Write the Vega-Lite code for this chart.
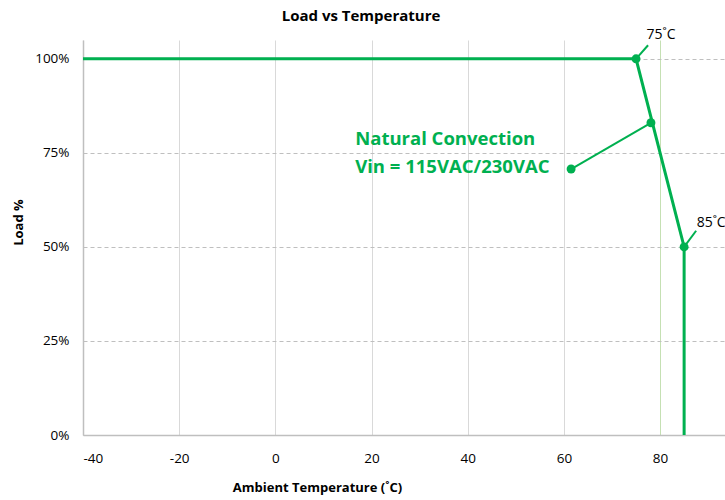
{
  "$schema": "https://vega.github.io/schema/vega-lite/v6.json",
  "width": 642,
  "height": 395,
  "autosize": "none",
  "padding": {"left": 83, "top": 40, "right": 0, "bottom": 65},
  "background": "white",
  "title": {"text": "Load vs Temperature", "anchor": "middle", "frame": "group", "dx": -43, "offset": 4, "font": "Open Sans", "fontSize": 15, "fontWeight": "bold", "color": "#000000"},
  "config": {"view": {"stroke": null}, "font": "Open Sans"},
  "datasets": {
    "curve": [{"i": 1, "t": -40, "load": 100}, {"i": 2, "t": 75, "load": 100}, {"i": 3, "t": 85, "load": 50}, {"i": 4, "t": 85, "load": 0}],
    "dots": [{"t": 75, "load": 100}, {"t": 85, "load": 50}, {"t": 78.1, "load": 83}, {"t": 61.5, "load": 70.7}],
    "leaders": [{"id": "a", "t": 75, "load": 100}, {"id": "a", "t": 77.5, "load": 103.6}, {"id": "b", "t": 85, "load": 50}, {"id": "b", "t": 87.5, "load": 54.3}, {"id": "c", "t": 61.5, "load": 70.7}, {"id": "c", "t": 78.1, "load": 83}],
    "labels": [{"t": 77.2, "load": 106.3, "text": "75˚C"}, {"t": 87.6, "load": 56.3, "text": "85˚C"}],
    "callout": [{"t": 16.6, "load": 78.7, "text": "Natural Convection"}, {"t": 16.6, "load": 71.2, "text": "Vin = 115VAC/230VAC"}]
  },
  "layer": [
    {
      "data": {"name": "curve"},
      "mark": {"type": "line", "color": "#00B050", "strokeWidth": 3},
      "encoding": {
        "x": {"field": "t", "type": "quantitative", "scale": {"domain": [-40, 93.5], "nice": false, "zero": false},
          "axis": {"values": [-40, -20, 0, 20, 40, 60, 80], "labelExpr": "datum.value + ''", "title": "Ambient Temperature (˚C)", "titleFont": "Open Sans", "titleFontSize": 13, "titleFontWeight": "bold", "titleColor": "#000000", "titleX": 234, "titleY": 52, "titleAnchor": "middle", "titleBaseline": "middle",
            "labelFontSize": 13.5, "labelColor": "#000000", "labelPadding": 16, "ticks": false, "domainColor": "#bfbfbf", "domainWidth": 1.5,
            "grid": true, "gridColor": {"condition": {"test": "datum.value === 80", "value": "#c5e0b3"}, "value": "#d9d9d9"}, "gridWidth": 1}},
        "y": {"field": "load", "type": "quantitative", "scale": {"domain": [0, 105], "nice": false},
          "axis": {"values": [0, 25, 50, 75, 100], "labelExpr": "datum.value + '%'", "title": "Load %", "titleFont": "Open Sans", "titleFontSize": 13, "titleFontWeight": "bold", "titleColor": "#000000", "titleX": -65, "titleY": 182, "titleAnchor": "middle", "titleBaseline": "middle",
            "labelFontSize": 13.5, "labelColor": "#000000", "labelPadding": 14, "ticks": false, "domainColor": "#bfbfbf", "domainWidth": 1.5,
            "grid": true, "gridColor": "#bfbfbf", "gridDash": [4, 3], "gridWidth": 1}},
        "order": {"field": "i", "type": "quantitative"}
      }
    },
    {
      "data": {"name": "leaders"},
      "mark": {"type": "line", "color": "#00B050", "strokeWidth": 2},
      "encoding": {
        "x": {"field": "t", "type": "quantitative"},
        "y": {"field": "load", "type": "quantitative"},
        "detail": {"field": "id"}
      }
    },
    {
      "data": {"name": "dots"},
      "mark": {"type": "circle", "color": "#00B050", "opacity": 1, "size": 80},
      "encoding": {
        "x": {"field": "t", "type": "quantitative"},
        "y": {"field": "load", "type": "quantitative"}
      }
    },
    {
      "data": {"name": "labels"},
      "mark": {"type": "text", "align": "left", "baseline": "middle", "fontSize": 14, "color": "#000000", "font": "Open Sans"},
      "encoding": {
        "x": {"field": "t", "type": "quantitative"},
        "y": {"field": "load", "type": "quantitative"},
        "text": {"field": "text"}
      }
    },
    {
      "data": {"name": "callout"},
      "mark": {"type": "text", "align": "left", "baseline": "middle", "fontSize": 18.5, "fontWeight": "bold", "color": "#00B050", "font": "Open Sans"},
      "encoding": {
        "x": {"field": "t", "type": "quantitative"},
        "y": {"field": "load", "type": "quantitative"},
        "text": {"field": "text"}
      }
    }
  ]
}
